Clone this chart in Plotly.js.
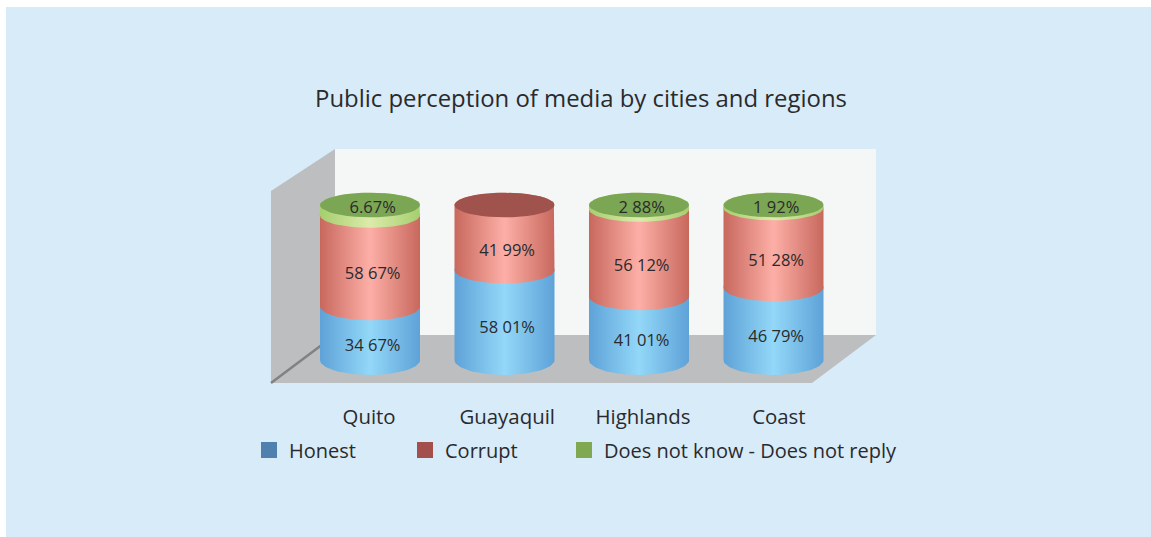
<!DOCTYPE html>
<html><head><meta charset="utf-8">
<script src="https://cdn.plot.ly/plotly-3.0.1.min.js"></script>
<style>html,body{margin:0;padding:0;background:#fff;overflow:hidden}#chart{position:absolute;left:6px;top:7px;width:1145px;height:530px}</style>
</head><body><div id="chart"></div>
<script>
const categories = ['Quito','Guayaquil','Highlands','Coast'];
const honest  = [34.67,58.01,41.01,46.79];
const corrupt = [58.67,41.99,56.12,51.28];
const noReply = [6.67,0,2.88,1.92];
const honestLabels  = ['34 67%','58 01%','41 01%','46 79%'];
const corruptLabels = ['58 67%','41 99%','56 12%','51 28%'];
const noReplyLabels = ['6.67%','','2 88%','1 92%'];
const seriesNames = ['Honest','Corrupt','Does not know - Does not reply'];

const FONT = '"Open Sans", sans-serif', INK = '#2a2a2c';
const PXX = 134.5, PXY = 1.55, X0 = 370, Y0 = 360;   // page pixel scale of the axes
const ux = px => (px - X0) / PXX, uy = py => (Y0 - py) / PXY;
const HALF = 50 / PXX;
const ry = v => (15 - 0.027 * v) / PXY;

const styles = [
  {edge:'#5ea2d8', mid:'#93d8f8', top:'#4f81ae', key:'#4f81ae'},
  {edge:'#c8685d', mid:'#fdafa7', top:'#a0534d', key:'#a34f4c'},
  {edge:'#a5ce6f', mid:'#dcebaa', top:'#7ba653', key:'#80a850'}
];
function arc(cx, v, from, to) {           // elliptical arc at stack level v
  const xs = [], ys = [];
  for (let k = 0; k <= 40; k++) {
    const t = from + (to - from) * k / 40;
    xs.push(cx + HALF * Math.cos(t));
    ys.push(v + ry(v) * Math.sin(t));
  }
  return [xs, ys];
}
const traces = [];
categories.forEach((c, i) => {
  let lo = 0, lastStyle = styles[0];
  [honest, corrupt, noReply].forEach((arr, s) => {
    const val = arr[i];
    if (!val) return;
    const hi = lo + val;
    const [ax, ay] = arc(i, lo, Math.PI, 2 * Math.PI);   // front edge, left to right
    const [bx, by] = arc(i, hi, 0, Math.PI);             // back edge, right to left
    traces.push({x: ax.concat(bx), y: ay.concat(by), mode: 'lines', fill: 'toself',
      line: {width: 0}, showlegend: false, hoverinfo: 'skip',
      fillgradient: {type: 'horizontal', colorscale: [[0, styles[s].edge], [0.5, styles[s].mid], [1, styles[s].edge]]}});
    lo = hi; lastStyle = styles[s];
  });
  const [tx, ty] = arc(i, lo, 0, 2 * Math.PI);
  traces.push({x: tx, y: ty, mode: 'lines', fill: 'toself', line: {width: 0},
    fillcolor: lastStyle.top, showlegend: false, hoverinfo: 'skip'});
});
const idx = categories.map((_, i) => i + 0.02);
const lblFont = {family: FONT, size: 16.5, color: INK};
traces.push({x: idx, y: honest.map(v => v / 2 - 9), text: honestLabels, mode: 'text', textfont: lblFont, showlegend: false, hoverinfo: 'text'});
traces.push({x: idx, y: corrupt.map((v, i) => honest[i] + v / 2 - 9), text: corruptLabels, mode: 'text', textfont: lblFont, showlegend: false, hoverinfo: 'text'});
traces.push({x: idx, y: noReply.map(() => 97.5), text: noReplyLabels, mode: 'text', textfont: lblFont, showlegend: false, hoverinfo: 'text'});
const legendIds = ['legend', 'legend2', 'legend3'];
seriesNames.forEach((n, s) => traces.push({x: [null], y: [null], name: n, mode: 'markers', legend: legendIds[s],
  marker: {symbol: 'square', size: 16, color: styles[s].key}}));

const poly = (pts, fill) => ({type: 'path', layer: 'below', fillcolor: fill, line: {width: 0},
  xref: 'x', yref: 'y',
  path: 'M' + pts.map(p => ux(p[0]) + ',' + uy(p[1])).join('L') + 'Z'});
const legendAt = px => ({x: (px - 6) / 1145, xanchor: 'left', y: (395 - 450) / 388, yanchor: 'middle',
  bgcolor: 'rgba(0,0,0,0)', font: {family: FONT, size: 20, color: INK}});

const layout = {
  width: 1145, height: 530, margin: {l: 0, r: 0, t: 0, b: 142, pad: 0},
  paper_bgcolor: '#d8ebf9', plot_bgcolor: 'rgba(0,0,0,0)',
  title: {text: 'Public perception of media by cities and regions', x: 575 / 1145, xanchor: 'center',
    y: 1 - 92 / 530, yanchor: 'middle', xref: 'container', yref: 'container',
    font: {family: FONT, size: 23.9, color: INK}},
  xaxis: {range: [ux(6), ux(1151)], showgrid: false, zeroline: false, showline: false, ticks: '',
    tickmode: 'array', tickvals: [-0.007, 1.02, 2.03, 3.04], ticktext: categories,
    tickfont: {family: FONT, size: 20.4, color: INK}, ticklabelstandoff: 8, fixedrange: true},
  yaxis: {range: [uy(395), uy(7)], showgrid: false, zeroline: false, showline: false, showticklabels: false, ticks: '', fixedrange: true},
  shapes: [
    poly([[335,149],[876,149],[876,335],[335,335]], '#f5f7f7'),
    poly([[271,191],[335,149],[335,335],[271,383]], '#bcbec0'),
    poly([[335,335],[876,335],[812,383],[271,383]], '#bcbec0'),
    {type: 'line', layer: 'below', xref: 'x', yref: 'y', x0: ux(271), y0: uy(383), x1: ux(335), y1: uy(335), line: {color: '#808285', width: 2.5}}
  ],
  showlegend: true,
  legend: legendAt(249), legend2: legendAt(405), legend3: legendAt(564),
  hovermode: 'closest'
};
Plotly.newPlot('chart', traces, layout, {displayModeBar: false});
</script></body></html>
